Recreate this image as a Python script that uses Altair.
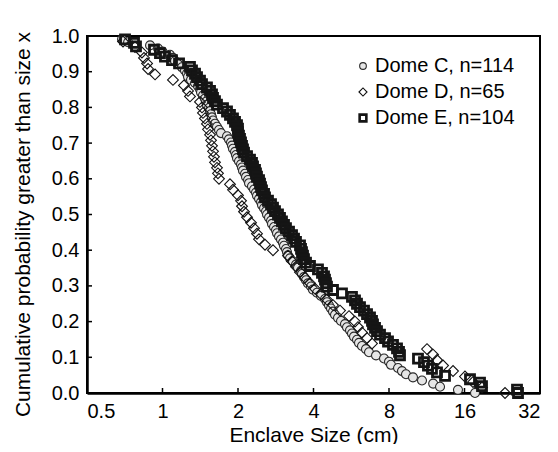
import altair as alt
import pandas as pd

# Enclave sizes (cm), one value per plotted marker
dome_c_sizes = [0.690, 0.729, 0.892, 0.960, 1.000, 1.071, 1.101, 1.122, 1.153, 1.196,
                1.229, 1.252, 1.264, 1.299, 1.348, 1.385, 1.411, 1.424, 1.450, 1.477,
                1.491, 1.504, 1.533, 1.547, 1.561, 1.575, 1.590, 1.619, 1.649, 1.680,
                1.711, 1.808, 1.841, 1.875, 1.893, 1.910, 1.946, 1.964, 1.982, 2.018,
                2.056, 2.075, 2.094, 2.133, 2.153, 2.193, 2.213, 2.274, 2.317, 2.359,
                2.381, 2.426, 2.471, 2.493, 2.540, 2.587, 2.610, 2.659, 2.708, 2.733,
                2.784, 2.835, 2.861, 2.914, 2.968, 3.023, 3.051, 3.107, 3.136, 3.165,
                3.224, 3.314, 3.406, 3.469, 3.567, 3.599, 3.666, 3.734, 3.803, 3.909,
                3.981, 4.130, 4.285, 4.445, 4.527, 4.611, 4.697, 4.784, 4.873, 5.009,
                5.149, 5.341, 5.440, 5.592, 5.695, 5.801, 5.963, 6.074, 6.243, 6.477,
                6.658, 7.101, 7.642, 8.000, 8.148, 8.690, 9.014, 9.351, 9.970, 10.83,
                12.00, 12.78, 15.07, 17.62]

dome_d_sizes = [0.696, 0.777, 0.828, 0.844, 0.868, 0.876, 0.934, 1.101, 1.218, 1.264,
                1.287, 1.411, 1.437, 1.450, 1.477, 1.504, 1.518, 1.547, 1.561, 1.575,
                1.590, 1.604, 1.619, 1.649, 1.664, 1.680, 1.858, 1.910, 2.000, 2.056,
                2.075, 2.114, 2.173, 2.254, 2.317, 2.381, 2.426, 2.563, 2.758, 3.165,
                3.283, 3.406, 3.534, 3.700, 3.873, 4.055, 4.285, 4.527, 4.784, 5.102,
                5.543, 5.855, 6.018, 6.243, 6.539, 6.844, 11.34, 11.98, 12.43, 13.14,
                14.40, 16.07, 17.30, 18.79, 23.21]

dome_e_sizes = [0.709, 0.770, 0.784, 0.925, 0.977, 1.023, 1.091, 1.164, 1.287, 1.311,
                1.348, 1.373, 1.411, 1.437, 1.504, 1.547, 1.575, 1.590, 1.619, 1.649,
                1.743, 1.808, 1.858, 1.910, 1.946, 1.982, 2.000, 2.000, 2.018, 2.037,
                2.056, 2.075, 2.094, 2.114, 2.173, 2.233, 2.274, 2.296, 2.338, 2.359,
                2.381, 2.426, 2.448, 2.471, 2.493, 2.540, 2.563, 2.634, 2.708, 2.758,
                2.809, 2.887, 2.941, 2.995, 3.051, 3.107, 3.195, 3.284, 3.345, 3.406,
                3.534, 3.567, 3.599, 3.633, 3.666, 3.734, 3.873, 4.168, 4.324, 4.405,
                4.445, 4.486, 4.527, 4.784, 5.196, 5.695, 5.855, 5.963, 6.130, 6.359,
                6.539, 6.720, 6.844, 6.907, 7.036, 7.166, 7.366, 7.713, 7.928, 8.299,
                8.611, 8.770, 8.850, 10.44, 11.03, 11.44, 11.87, 12.43, 13.38, 16.83,
                18.45, 18.79, 25.91, 26.15]

series_names = ["Dome C, n=114", "Dome D, n=65", "Dome E, n=104"]
x_tick_values = [0.5, 1, 2, 4, 8, 16, 32]
x_inner_ticks = [1, 2, 4, 8, 16]
y_tick_values = [0.0, 0.1, 0.2, 0.3, 0.4, 0.5, 0.6, 0.7, 0.8, 0.9, 1.0]
y_inner_ticks = [0.1, 0.2, 0.3, 0.4, 0.5, 0.6, 0.7, 0.8, 0.9]

# Empirical exceedance probability: fraction of enclaves larger than each size
rows = []
for name, sizes in zip(series_names, [dome_c_sizes, dome_d_sizes, dome_e_sizes]):
    s = sorted(sizes)
    n = len(s)
    for i, v in enumerate(s):
        rows.append({"series": name, "size": v, "prob": (n - 1 - i) / n})
df = pd.DataFrame(rows)

FONT = "Liberation Sans"
W, H = 453, 357
DIAMOND = "M-1.2,0L0,-1.2L1.2,0L0,1.2Z"
BOLD = series_names[2]

x_scale = alt.Scale(type="log", base=2, domain=[0.5, 32], nice=False)
y_scale = alt.Scale(domain=[0, 1], nice=False, zero=False)

legend = alt.Legend(
    title=None,
    symbolStrokeWidth=alt.ExprRef("datum.value === '%s' ? 2.6 : 1.1" % BOLD),
)

points = alt.Chart(df).mark_point(size=81, opacity=1).encode(
    x=alt.X("size:Q", scale=x_scale,
            axis=alt.Axis(title="Enclave Size (cm)", values=x_tick_values, format="~g",
                          grid=False, ticks=False, tickSize=0, labelPadding=8,
                          titlePadding=3)),
    y=alt.Y("prob:Q", scale=y_scale,
            axis=alt.Axis(title="Cumulative probability greater than size x",
                          values=y_tick_values, format=".1f", grid=False, ticks=False,
                          tickSize=0, labelPadding=8, titleX=-54, titleY=188)),
    shape=alt.Shape("series:N", scale=alt.Scale(domain=series_names,
                                                range=["circle", DIAMOND, "square"]),
                    legend=legend),
    fill=alt.Fill("series:N", scale=alt.Scale(domain=series_names,
                                              range=["#e6e6e6", "transparent", "transparent"]),
                  legend=legend),
    stroke=alt.Stroke("series:N", scale=alt.Scale(domain=series_names,
                                                  range=["#2a2a2a", "#111111", "#151515"]),
                      legend=legend),
    strokeWidth=alt.condition(alt.datum.series == BOLD, alt.value(2.8), alt.value(1.1)),
)

xt = alt.Chart(pd.DataFrame({"v": x_inner_ticks})).mark_rule(
    color="black", strokeWidth=1.5
).encode(
    x=alt.X("v:Q", scale=x_scale, axis=None),
    y=alt.value(H), y2=alt.value(H - 5),
)

yt = alt.Chart(pd.DataFrame({"v": y_inner_ticks})).mark_rule(
    color="black", strokeWidth=1.5
).encode(
    y=alt.Y("v:Q", scale=y_scale, axis=None),
    x=alt.value(0), x2=alt.value(5),
)

chart = alt.layer(points, xt, yt).resolve_axis(
    x="independent", y="independent"
).properties(
    width=W, height=H,
    autosize=alt.AutoSizeParams(type="none"),
    padding={"left": 79, "top": 28, "right": 10, "bottom": 51},
).configure_view(
    stroke="black", strokeWidth=2
).configure_axis(
    labelFont=FONT, titleFont=FONT, labelFontSize=20, titleFontSize=21,
    labelColor="black", titleColor="black", titleFontWeight="normal",
    domainColor="black", domainWidth=2.5,
).configure_legend(
    orient="none", legendX=266, legendY=20, padding=0,
    labelFont=FONT, labelFontSize=20, labelColor="black",
    symbolSize=45, rowPadding=6, labelOffset=2,
)

chart.save("out.html", embed_options={"renderer": "svg", "actions": False})
